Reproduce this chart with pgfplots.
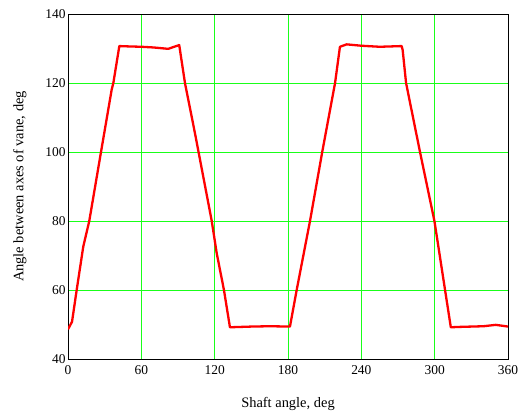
\documentclass[border=0pt]{standalone}
\usepackage{pgfplots}
\pgfplotsset{compat=1.18}
\usepackage{fontspec}
\setmainfont{Liberation Serif}
\begin{document}
\begin{tikzpicture}
\begin{axis}[
  name=ax,
  scale only axis,
  width=440bp, height=345bp,
  xmin=0, xmax=360, ymin=40, ymax=140,
  xtick={0,60,...,360}, ytick={40,60,...,140},
  grid=major,
  major grid style={color=green!90!white, line width=0.9bp},
  axis line style={black, line width=0.8bp},
  tick style={draw=none},
  /pgf/number format/assume math mode=true,
  ticklabel style={font=\fontsize{13.5}{15}\selectfont},
  xticklabel style={yshift=-3bp},
  yticklabel style={xshift=1bp},
  label style={font=\fontsize{14.5}{17}\selectfont},
  xlabel={Shaft angle, deg},
  ylabel={Angle between axes of vane, deg},
  xlabel style={yshift=-16bp},
  ylabel style={yshift=12bp},
]
\addplot[red, line width=2.3bp, line join=round] coordinates {
(0,48.6)(3.3,50.8)(7.1,60)(12.5,72.6)(17.4,80)(27,100)(35.7,118)(37.1,120)(42,130.7)
(50,130.6)(60,130.5)(70,130.3)(82,129.9)(91,131)(95.7,120)(103.9,105.4)(117.6,80)
(121.7,70.6)(127.6,60)(132.5,49.2)(150,49.4)(165,49.5)(181.6,49.4)(187.1,60)(198,80)
(208,100)(218.5,120)(222.5,130.5)(228,131.2)(240,130.8)(255,130.5)(273,130.7)
(273.8,129.6)(276.6,120)(288,100)(299.8,80)(308.5,60)(313.2,49.2)(320,49.3)
(340,49.5)(350,49.9)(360,49.4)
};
\end{axis}
\pgfresetboundingbox
\path[use as bounding box] ([xshift=-68bp,yshift=-51bp]ax.south west) rectangle ([xshift=13bp,yshift=14bp]ax.north east);
\end{tikzpicture}
\end{document}
